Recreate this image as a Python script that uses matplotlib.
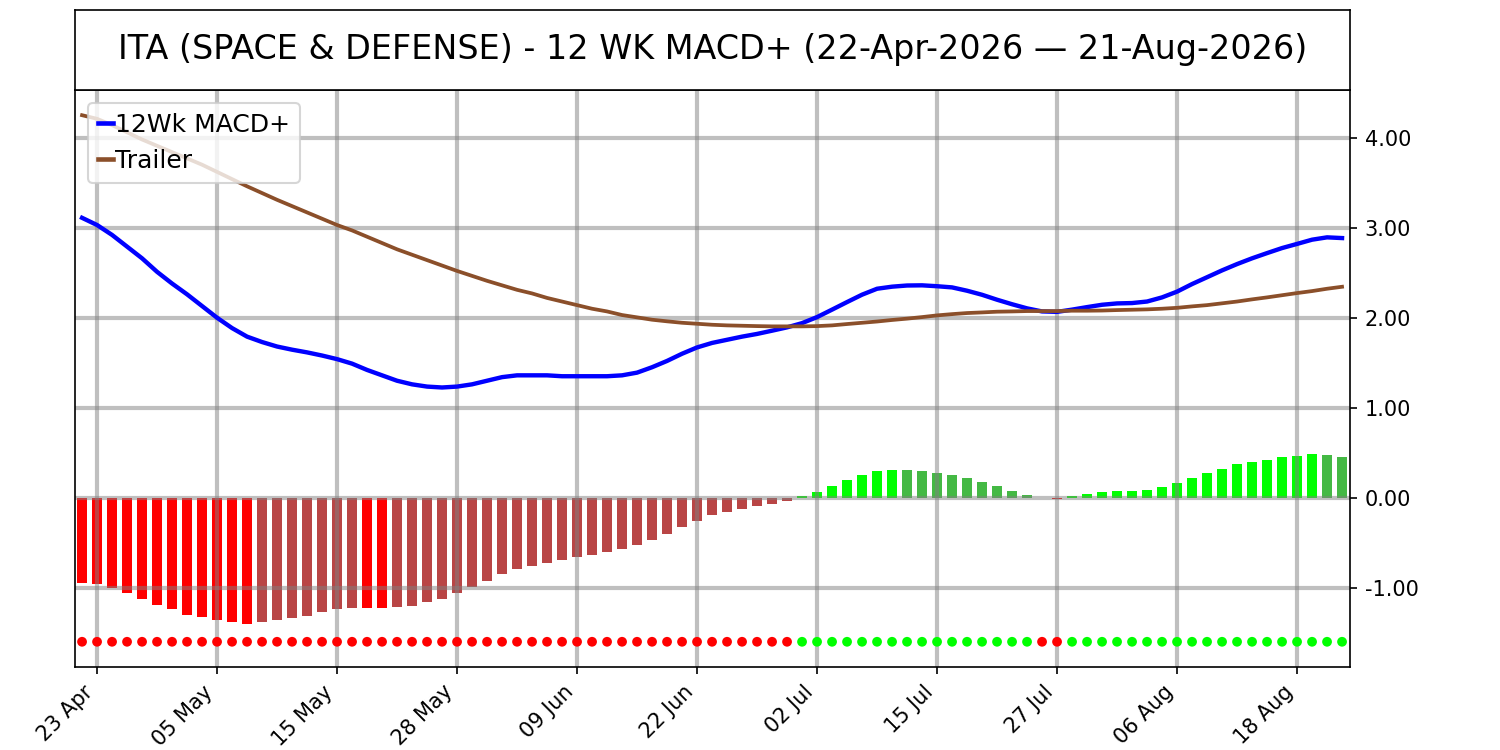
import matplotlib
matplotlib.use("Agg")
import matplotlib.pyplot as plt
import numpy as np
import pandas as pd

title = "ITA (SPACE & DEFENSE) - 12 WK MACD+ (22-Apr-2026 \u2014 21-Aug-2026)"

# US trading days 22-Apr-2026 .. 21-Aug-2026
holidays = ["2026-05-25", "2026-06-19", "2026-07-03"]
dates = pd.bdate_range("2026-04-22", "2026-08-21")
dates = dates[~dates.isin(pd.to_datetime(holidays))]

macd = [3.11, 3.03, 2.92, 2.79, 2.66, 2.51, 2.38, 2.26, 2.13, 2.00,
        1.885, 1.79, 1.73, 1.68, 1.645, 1.615, 1.58, 1.54, 1.49, 1.42,
        1.36, 1.30, 1.26, 1.235, 1.225, 1.235, 1.26, 1.30, 1.34, 1.36,
        1.36, 1.36, 1.35, 1.35, 1.35, 1.35, 1.36, 1.39, 1.45, 1.52,
        1.60, 1.67, 1.72, 1.755, 1.79, 1.82, 1.856, 1.893, 1.94, 2.007,
        2.09, 2.174, 2.256, 2.322, 2.345, 2.358, 2.36, 2.35, 2.337, 2.30,
        2.255, 2.20, 2.15, 2.104, 2.07, 2.065, 2.09, 2.118, 2.144, 2.159,
        2.163, 2.18, 2.226, 2.29, 2.374, 2.45, 2.526, 2.596, 2.66, 2.718,
        2.774, 2.82, 2.867, 2.893, 2.885]

trailer = [4.25, 4.21, 4.14, 4.06, 3.98, 3.91, 3.84, 3.77, 3.70, 3.62,
           3.54, 3.46, 3.385, 3.31, 3.24, 3.17, 3.10, 3.03, 2.97, 2.90,
           2.83, 2.76, 2.70, 2.64, 2.58, 2.52, 2.465, 2.41, 2.36, 2.31,
           2.27, 2.22, 2.18, 2.14, 2.10, 2.07, 2.03, 2.004, 1.978, 1.96,
           1.944, 1.933, 1.922, 1.915, 1.911, 1.907, 1.904, 1.904, 1.904, 1.907,
           1.915, 1.93, 1.944, 1.958, 1.975, 1.99, 2.007, 2.026, 2.04, 2.052,
           2.059, 2.067, 2.07, 2.074, 2.074, 2.074, 2.078, 2.078, 2.08, 2.085,
           2.089, 2.093, 2.10, 2.11, 2.126, 2.14, 2.16, 2.18, 2.204, 2.226,
           2.25, 2.274, 2.296, 2.322, 2.344]

hist = [-0.95, -0.96, -1.00, -1.06, -1.13, -1.19, -1.24, -1.30, -1.33, -1.36,
        -1.385, -1.40, -1.385, -1.36, -1.34, -1.31, -1.27, -1.24, -1.22, -1.22,
        -1.22, -1.21, -1.20, -1.16, -1.12, -1.06, -0.99, -0.92, -0.85, -0.79,
        -0.76, -0.73, -0.69, -0.66, -0.64, -0.60, -0.57, -0.53, -0.47, -0.40,
        -0.33, -0.26, -0.19, -0.16, -0.126, -0.093, -0.07, -0.037, 0.02, 0.067,
        0.133, 0.20, 0.255, 0.30, 0.312, 0.31, 0.30, 0.278, 0.255, 0.22,
        0.178, 0.133, 0.078, 0.033, -0.006, -0.012, 0.015, 0.044, 0.067, 0.078,
        0.079, 0.089, 0.12, 0.167, 0.22, 0.28, 0.32, 0.37, 0.40, 0.42,
        0.455, 0.467, 0.49, 0.478, 0.455]

tick_step = 8
tick_start = 1

x = np.arange(len(dates))
hist = np.array(hist)
prev = np.concatenate([[np.inf * -np.sign(hist[0])], hist[:-1]])
bar_colors = []
for h, p in zip(hist, prev):
    if h >= 0:
        bar_colors.append("#00ff00" if h >= p else "#44b944")
    else:
        bar_colors.append("#ff0000" if h <= p else "#b94545")
dot_colors = ["#00ff00" if h > 0 else "#ff0000" for h in hist]

fig = plt.figure(figsize=(10, 5), dpi=150)
ax = fig.add_axes([0.05, 0.1107, 0.85, 0.7693])
tax = fig.add_axes([0.05, 0.88, 0.85, 0.1067])
tax.set_xticks([]); tax.set_yticks([])
tax.text(0.5, 0.5, title, ha="center", va="center", fontsize=16, transform=tax.transAxes)

ax.bar(x, hist, width=0.72, color=bar_colors)
ax.scatter(x, np.full(len(x), -1.6), s=22, c=dot_colors, zorder=3, linewidths=0)
ax.plot(x, macd, color="#0000ff", lw=2.1, label="12Wk MACD+", zorder=4)
ax.plot(x, trailer, color="#8b4f2a", lw=1.8, label="Trailer", zorder=4)

ax.set_xlim(-0.47, len(x) - 0.47)
ax.set_ylim(-1.88, 4.53)
ax.yaxis.tick_right()
ax.set_yticks([-1, 0, 1, 2, 3, 4])
ax.set_yticklabels([f"{v:.2f}" for v in [-1, 0, 1, 2, 3, 4]])
ticks = x[tick_start::tick_step]
ax.set_xticks(ticks)
ax.set_xticklabels([dates[i].strftime("%d %b") for i in ticks], rotation=45, ha="right")
ax.grid(True, color="gray", alpha=0.5, lw=2)
leg = ax.legend(loc="upper left", fontsize=12, handlelength=0.6, handletextpad=0.1,
                labelspacing=0.5, borderpad=0.4, framealpha=0.8)
for l in leg.get_lines():
    l.set_linewidth(2.2)

fig.savefig("out.png", dpi=150)
